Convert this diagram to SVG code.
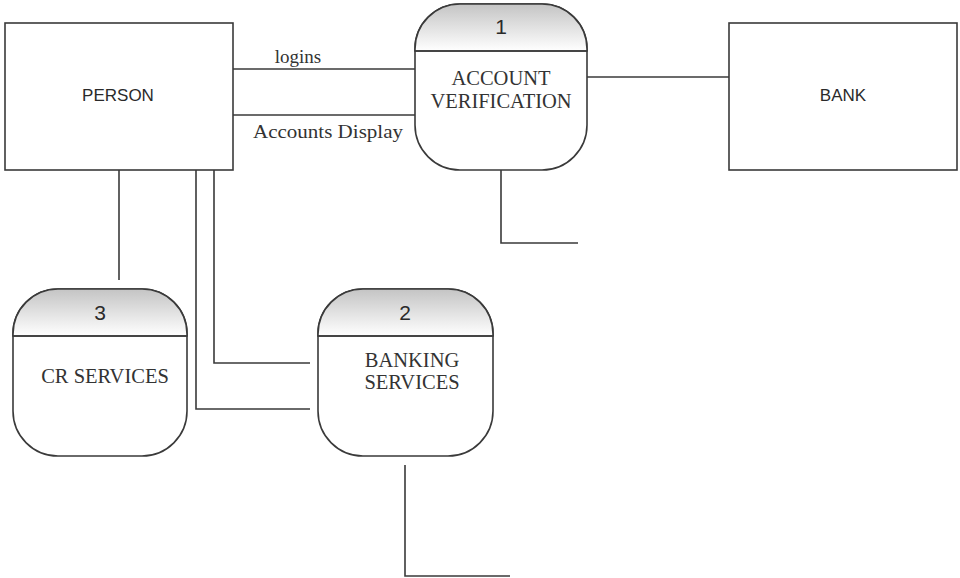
<svg xmlns="http://www.w3.org/2000/svg" width="960" height="578" viewBox="0 0 960 578">
  <style>
    .box { fill: #ffffff; stroke: #3a3a3a; stroke-width: 1.6; }
    .proc { fill: #ffffff; stroke: #3a3a3a; stroke-width: 1.6; }
    .div { stroke: #3a3a3a; stroke-width: 1.6; }
    .wire { fill: none; stroke: #3a3a3a; stroke-width: 1.6; }
    .sans { font-family: "Liberation Sans", Arial, sans-serif; fill: #2a2a2a; }
    .serif { font-family: "Liberation Serif", "Times New Roman", serif; fill: #333; }
  </style>
  <defs>
    <linearGradient id="hdr" x1="0" y1="0" x2="0" y2="1">
      <stop offset="0" stop-color="#c4c4c4"/>
      <stop offset="1" stop-color="#ffffff"/>
    </linearGradient>
  </defs>

  <!-- connectors -->
  <g id="connectors">
    <line class="wire" x1="233" y1="69" x2="415" y2="69"/>
    <line class="wire" x1="233" y1="115" x2="415" y2="115"/>
    <line class="wire" x1="587" y1="77" x2="729" y2="77"/>
    <polyline class="wire" points="501,170 501,243 578,243"/>
    <line class="wire" x1="119" y1="170" x2="119" y2="280"/>
    <polyline class="wire" points="214,170 214,363 310,363"/>
    <polyline class="wire" points="196,170 196,409 310,409"/>
    <polyline class="wire" points="405,465 405,576 510,576"/>
    <text class="serif" x="298" y="63" font-size="19" text-anchor="middle">logins</text>
    <text class="serif" x="328" y="138" font-size="19" text-anchor="middle" textLength="150" lengthAdjust="spacingAndGlyphs">Accounts Display</text>
  </g>

  <!-- external entities -->
  <g id="person">
    <rect class="box" x="5" y="23" width="228" height="147"/>
    <text class="sans" x="118" y="101" font-size="17" text-anchor="middle">PERSON</text>
  </g>
  <g id="bank">
    <rect class="box" x="729" y="23" width="228" height="147"/>
    <text class="sans" x="843" y="101" font-size="17" text-anchor="middle">BANK</text>
  </g>

  <!-- process 1 -->
  <g id="account-verification">
    <rect class="proc" x="415" y="4" width="172" height="166" rx="45" ry="45"/>
    <path d="M415,51 L415,49 A45,45 0 0 1 460,4 L542,4 A45,45 0 0 1 587,49 L587,51 Z" fill="url(#hdr)" stroke="#3a3a3a" stroke-width="1.6"/>
    <line class="div" x1="415" y1="51" x2="587" y2="51"/>
    <text class="sans" x="501" y="34" font-size="21" text-anchor="middle">1</text>
    <text class="serif" x="501" y="85" font-size="20.5" text-anchor="middle">ACCOUNT</text>
    <text class="serif" x="501" y="108" font-size="20.5" text-anchor="middle">VERIFICATION</text>
  </g>

  <!-- process 2 -->
  <g id="banking-services">
    <rect class="proc" x="318" y="289" width="175" height="167" rx="45" ry="45"/>
    <path d="M318,336 L318,334 A45,45 0 0 1 363,289 L448,289 A45,45 0 0 1 493,334 L493,336 Z" fill="url(#hdr)" stroke="#3a3a3a" stroke-width="1.6"/>
    <line class="div" x1="318" y1="336" x2="493" y2="336"/>
    <text class="sans" x="405" y="320" font-size="21" text-anchor="middle">2</text>
    <text class="serif" x="412" y="367" font-size="20.5" text-anchor="middle">BANKING</text>
    <text class="serif" x="412" y="389" font-size="20.5" text-anchor="middle">SERVICES</text>
  </g>

  <!-- process 3 -->
  <g id="cr-services">
    <rect class="proc" x="13" y="289" width="174" height="167" rx="45" ry="45"/>
    <path d="M13,336 L13,334 A45,45 0 0 1 58,289 L142,289 A45,45 0 0 1 187,334 L187,336 Z" fill="url(#hdr)" stroke="#3a3a3a" stroke-width="1.6"/>
    <line class="div" x1="13" y1="336" x2="187" y2="336"/>
    <text class="sans" x="100" y="320" font-size="21" text-anchor="middle">3</text>
    <text class="serif" x="105" y="383" font-size="20.5" text-anchor="middle">CR SERVICES</text>
  </g>
</svg>
